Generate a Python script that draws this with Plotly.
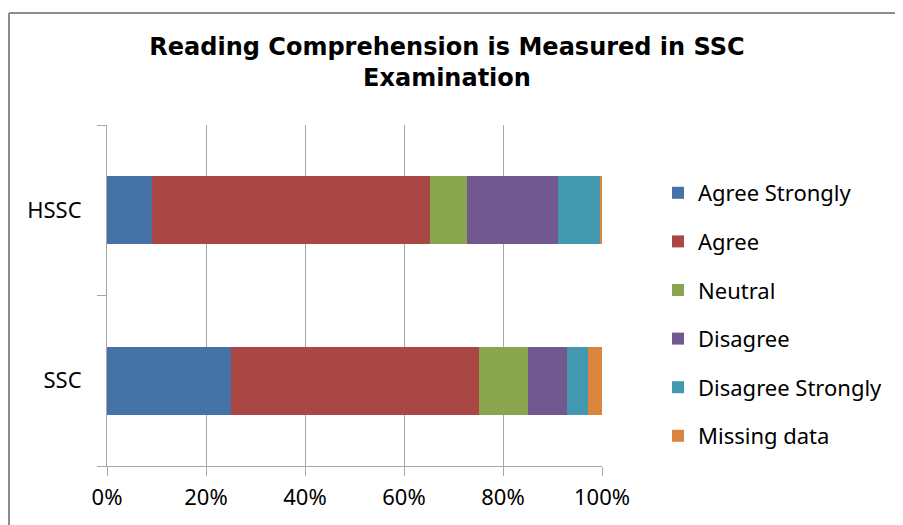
import plotly.graph_objects as go

categories = ["SSC", "HSSC"]
series_names = ["Agree Strongly", "Agree", "Neutral", "Disagree", "Disagree Strongly", "Missing data"]
series_values = {
    "Agree Strongly":    [25.0, 9.0],
    "Agree":             [50.2, 56.2],
    "Neutral":           [9.8, 7.6],
    "Disagree":          [8.0, 18.4],
    "Disagree Strongly": [4.2, 8.5],
    "Missing data":      [2.8, 0.3],
}
colors = ["#4572A7", "#AA4643", "#89A54E", "#71588F", "#4198AF", "#DB843D"]
x_ticks = [0, 20, 40, 60, 80, 100]

FONT = "Noto Sans"
OFF = 8  # page body margin offset

fig = go.Figure()
for name, col in zip(series_names, colors):
    fig.add_trace(go.Bar(
        y=categories, x=series_values[name], name=name, orientation="h",
        marker=dict(color=col, line=dict(width=0)), legendgroup=name,
    ))

W, H = 903 - OFF, 525 - OFF
L, T = 107 - OFF, 125 - OFF
R = W - (602 - OFF)
B = H - (466 - OFF)
pw, ph = W - L - R, H - T - B


def px(x):
    return (x - OFF - L) / pw


def py(y):
    return ((466 - OFF) - (y - OFF)) / ph


border = dict(color="#8C8C8C", width=2)

fig.update_layout(
    width=W, height=H,
    barmode="stack", bargap=0.6,
    plot_bgcolor="white", paper_bgcolor="white",
    margin=dict(l=L, r=R, t=T, b=B, pad=0),
    font=dict(family=FONT, size=22, color="#000000"),
    title=dict(
        text="<b>Reading Comprehension is Measured in SSC<br>Examination</b>",
        x=(447 - OFF) / W, xref="container", xanchor="center",
        y=1 - (55 - OFF) / H, yref="container", yanchor="top",
        font=dict(family="DejaVu Sans", size=24, color="#000000"),
    ),
    legend=dict(
        x=px(658), xanchor="left", y=py(172), yanchor="top",
        traceorder="grouped", tracegroupgap=17,
        font=dict(family=FONT, size=22, color="#000000"),
        itemclick=False,
    ),
    xaxis=dict(
        range=[0, 100], tickvals=x_ticks, ticktext=[f"{v}%" for v in x_ticks],
        showgrid=True, gridcolor="#A6A6A6", gridwidth=1,
        showline=True, linecolor="#A6A6A6", linewidth=1,
        ticks="outside", ticklen=9, tickcolor="#A6A6A6",
        zeroline=False, fixedrange=True, ticklabelstandoff=3,
    ),
    yaxis=dict(
        showline=True, linecolor="#A6A6A6", linewidth=1,
        ticks="outside", ticklen=9, tickcolor="#A6A6A6", tickson="boundaries",
        showgrid=False, fixedrange=True, ticklabelstandoff=20,
    ),
    shapes=[
        dict(type="line", xref="paper", yref="paper",
             x0=px(9), x1=px(960), y0=py(13), y1=py(13), line=border, layer="below"),
        dict(type="line", xref="paper", yref="paper",
             x0=px(9), x1=px(9), y0=py(13), y1=py(560), line=border, layer="below"),
    ],
)

fig.write_html("out.html", post_script="document.documentElement.style.overflow='hidden';document.body.style.overflow='hidden';")
